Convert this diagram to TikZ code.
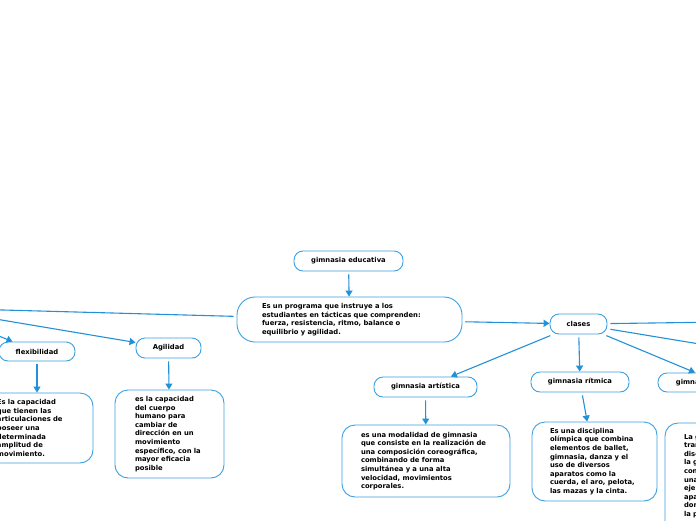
\documentclass[tikz,border=0pt]{standalone}
\usepackage{fontspec}
\setmainfont{DejaVu Sans}
\usetikzlibrary{arrows.meta}
\definecolor{lnblue}{RGB}{35,145,215}
\definecolor{bxblue}{RGB}{60,160,225}
\begin{document}
\begin{tikzpicture}[x=1pt,y=-1pt,
  every node/.style={font=\fontsize{6.8}{8.6}\selectfont\bfseries},
  topic/.style={draw=bxblue,line width=0.9pt,rounded corners=9pt,fill=white,inner sep=0pt,align=center},
  desc/.style={draw=bxblue,line width=0.9pt,rounded corners=13pt,fill=white,inner ysep=0pt,align=left},
  conn/.style={draw=lnblue,line width=1.1pt,-{Triangle[length=6pt,width=7pt]},shorten <=3pt}]
\useasboundingbox (0,0) rectangle (696,520);
\clip (0,0) rectangle (696,520);

\node[topic,minimum width=109pt,minimum height=20pt] (edu) at (348.5,261) {gimnasia educativa};
\node[desc,rounded corners=18pt,minimum height=45pt,text width=175pt,inner xsep=25pt] (main) at (349.5,319.5)
  {Es un programa que instruye a los\\ estudiantes en tácticas que comprenden:\\ fuerza, resistencia, ritmo, balance o\\ equilibrio y agilidad.};

\coordinate (capac) at (-70,308);
\coordinate (rightA) at (760,321.5);
\coordinate (rightB) at (760,354);

\node[topic,minimum width=57pt,minimum height=20pt] (clases) at (578.5,324) {clases};

\node[topic,minimum width=76pt,minimum height=19pt] (flex) at (37,351.5) {flexibilidad};
\node[desc,minimum height=70pt,text width=80pt,inner xsep=16pt] (flexd) at (37,428)
  {Es la capacidad\\ que tienen las\\ articulaciones de\\ poseer una\\ determinada\\ amplitud de\\ movimiento.};

\node[topic,minimum width=65pt,minimum height=20pt] (agil) at (168.5,348) {Agilidad};
\node[desc,minimum height=88pt,text width=69pt,inner xsep=20pt] (agild) at (169.5,434)
  {es la capacidad\\ del cuerpo\\ humano para\\ cambiar de\\ dirección en un\\ movimiento\\ específico, con la\\ mayor eficacia\\ posible};

\node[topic,minimum width=103pt,minimum height=20pt] (art) at (425.5,387) {gimnasia artística};
\node[desc,minimum height=72pt,text width=130pt,inner xsep=19pt] (artd) at (426,461)
  {es una modalidad de gimnasia\\ que consiste en la realización de\\ una composición coreográfica,\\ combinando de forma\\ simultánea y a una alta\\ velocidad, movimientos\\ corporales.};

\node[topic,minimum width=98pt,minimum height=20pt] (rit) at (580,382) {gimnasia rítmica};
\node[desc,minimum height=79pt,text width=89pt,inner xsep=18pt] (ritd) at (594.5,461.5)
  {Es una disciplina\\ olímpica que combina\\ elementos de ballet,\\ gimnasia, danza y el\\ uso de diversos\\ aparatos como la\\ cuerda, el aro, pelota,\\ las mazas y la cinta.};

\node[topic,minimum width=122pt,minimum height=19pt] (tramp) at (719,382.5) {gimnasia en trampolín};
\node[desc,minimum height=123pt,text width=87pt,inner xsep=19pt] (trampd) at (727.5,484.5)
  {La gimnasia en\\ trampolín es una\\ disciplina de\\ la gimnasia que\\ consiste en realizar\\ una serie de\\ ejercicios en un\\ aparato elástico,\\ donde se aprovecha\\ la potencia\\ propulsora del\\ trampolín.};

\draw[conn] (edu) -- (main);
\draw[conn] (main) -- (clases);
\draw[conn] (main) -- (capac);
\draw[conn] (capac) -- (flex);
\draw[conn] (capac) -- (agil);
\draw[conn] (flex) -- (flexd);
\draw[conn] (agil) -- (agild);
\draw[conn] (clases) -- (art);
\draw[conn] (clases) -- (rit);
\draw[conn] (clases) -- (tramp);
\draw[conn] (clases) -- (rightA);
\draw[conn] (clases) -- (rightB);
\draw[conn] (art) -- (artd);
\draw[conn] (rit) -- (ritd);
\draw[conn] (tramp) -- (trampd);
\end{tikzpicture}
\end{document}
